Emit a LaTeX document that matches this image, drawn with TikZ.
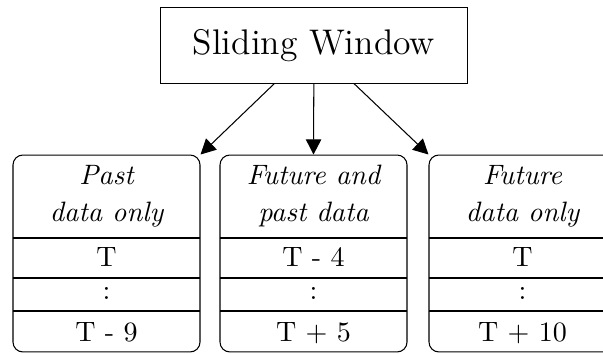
\documentclass[tikz,border=0pt]{standalone}
\usetikzlibrary{arrows.meta}
\begin{document}
\begin{tikzpicture}[x=0.3636pt,y=-0.3636pt,
  body/.style={font=\fontsize{10.2}{12}\selectfont, inner sep=0pt},
  head/.style={font=\fontsize{10.2}{12}\selectfont\itshape, inner sep=0pt},
  winbox/.style={draw, rounded corners=3.6pt, minimum width=68pt, minimum height=71.6pt, line width=0.38pt, inner sep=0pt},
  rowline/.style={line width=0.38pt},
  arr/.style={-{Triangle[length=5.5pt,width=5.6pt]}, line width=0.38pt}]
\useasboundingbox (0,0) rectangle (603,354);
\clip (0,0) rectangle (603,354);
\node[draw, line width=0.38pt, minimum width=111.3pt, minimum height=27.3pt, inner sep=0pt,
      font=\fontsize{12.95}{15}\selectfont] (title) at (314,45.5) {Sliding Window};
\foreach \n/\cx/\la/\lb/\ra/\rb in {b1/106.5/Past/data only/T/T - 9,
    b2/313.5/Future and/past data/T - 4/T + 5,
    b3/522.5/Future/data only/T/T + 10} {
  \node[winbox] (\n) at (\cx,253.5) {};
  \draw[rowline] (\cx-93.5,238) -- (\cx+93.5,238);
  \draw[rowline] (\cx-93.5,278) -- (\cx+93.5,278);
  \draw[rowline] (\cx-93.5,311) -- (\cx+93.5,311);
  \node[head, anchor=base] (\n-h1) at (\cx,185) {\la};
  \node[head, anchor=base] (\n-h2) at (\cx,222) {\lb};
  \node[body, anchor=base] (\n-r1) at (\cx,267) {\ra};
  \node[body, anchor=base] (\n-r2) at (\cx,300) {:};
  \node[body, anchor=base] (\n-r3) at (\cx,341.5) {\rb};
}
\draw[arr] (title) -- (b1.north east);
\draw[arr] (title) -- (b2.north);
\draw[arr] (title) -- (b3.north west);
\end{tikzpicture}
\end{document}
